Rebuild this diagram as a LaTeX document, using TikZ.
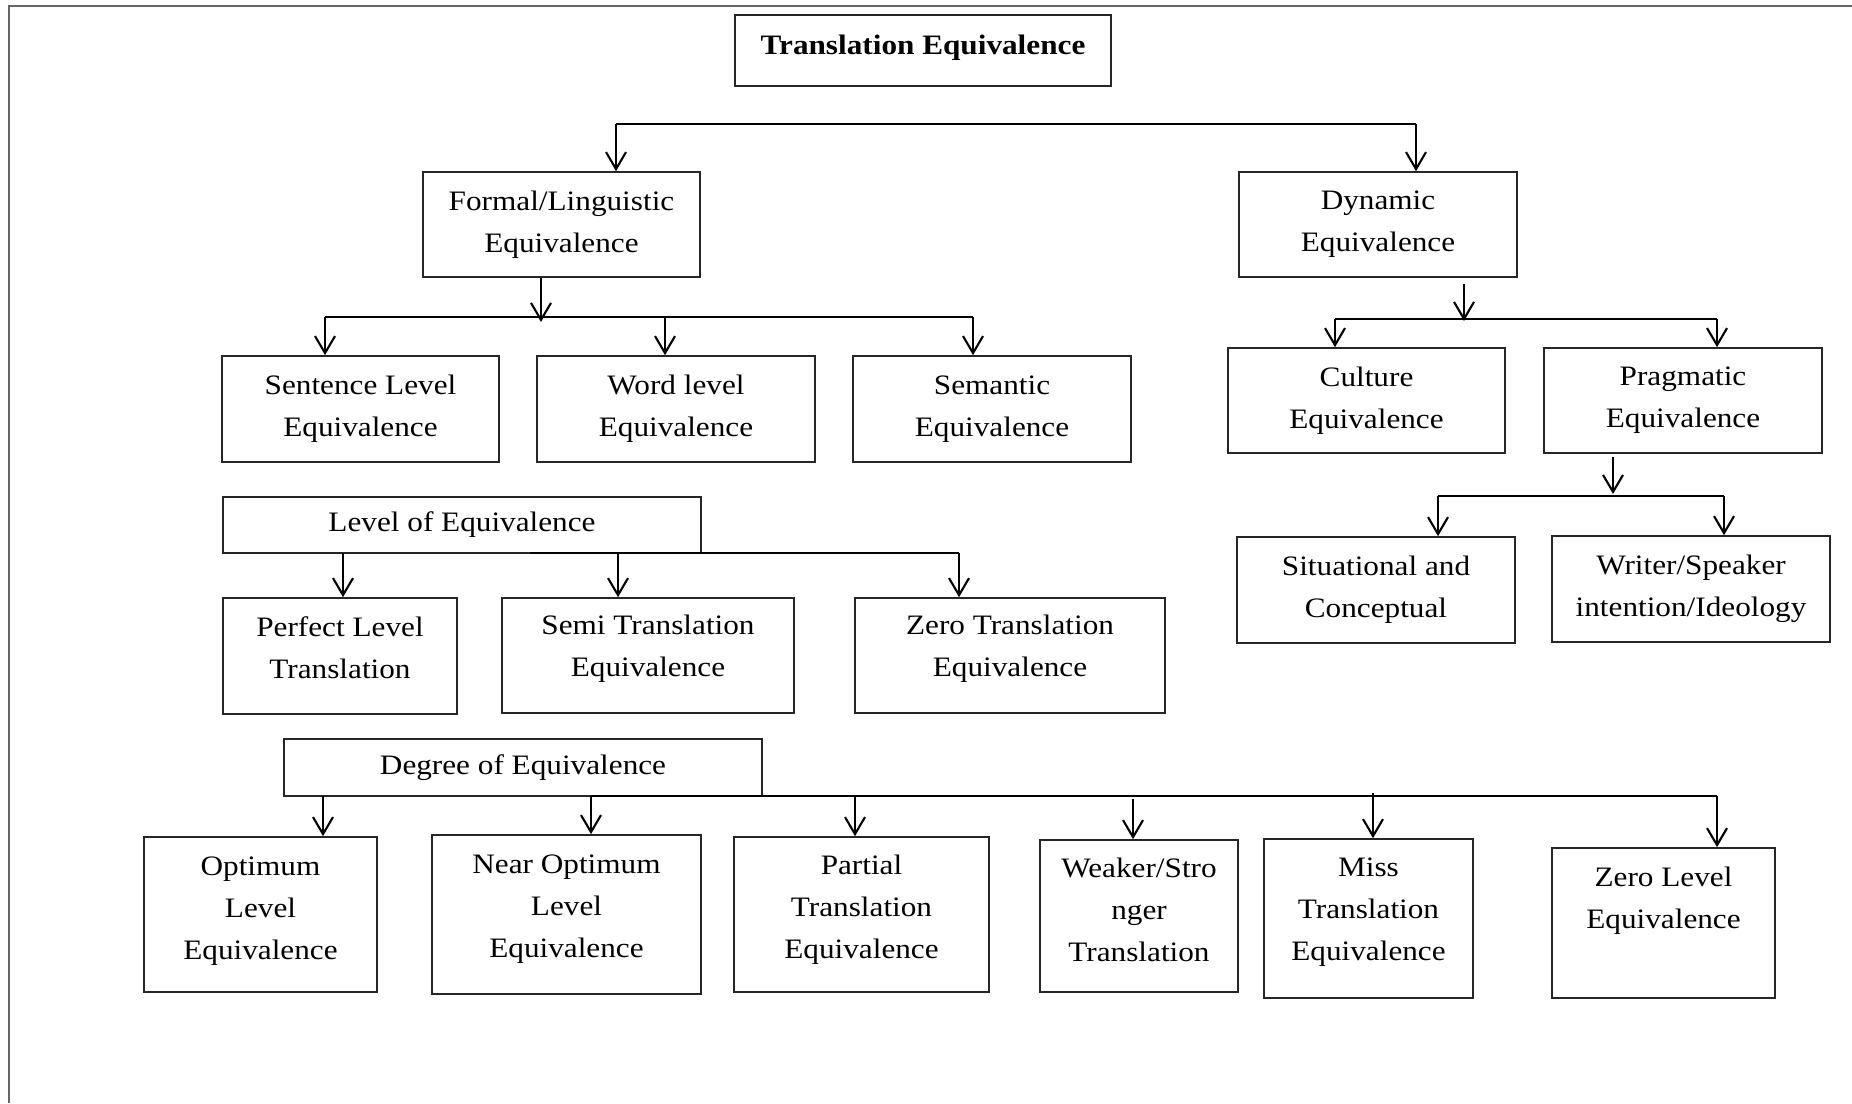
\documentclass[tikz,border=0pt]{standalone}
\usepackage{fontspec}
\setmainfont{Liberation Serif}[FakeStretch=1.11]
\usetikzlibrary{arrows.meta}

\begin{document}
\begin{tikzpicture}[x=0.01cm,y=-0.01cm]
  \tikzstyle{box}=[draw=black!85,line width=0.45pt,inner sep=0pt,align=center,font=\fontsize{8}{11.9}\selectfont]
  \tikzstyle{edge}=[draw=black,line width=0.6pt]
  \tikzstyle{arr}=[edge,-{Straight Barb[length=1.7mm,width=2mm]}]

  \useasboundingbox (0,0) rectangle (1852,1103);
  \draw[black!60,line width=0.4pt] (9,1103) -- (9,6) -- (1852,6);

  % boxes
  \node[box,minimum width=3.76cm,minimum height=0.71cm,text depth=0.11cm] (root) at (923,50.5) {\textbf{Translation Equivalence}};

  \node[box,minimum width=2.77cm,minimum height=1.05cm] (formal)  at (561.5,224.5) {Formal/Linguistic\\Equivalence};
  \node[box,minimum width=2.78cm,minimum height=1.05cm] (dynamic) at (1378,224.5)  {Dynamic\\Equivalence};

  \node[box,minimum width=2.77cm,minimum height=1.06cm] (sentence) at (360.5,409) {Sentence Level\\Equivalence};
  \node[box,minimum width=2.78cm,minimum height=1.06cm] (word)     at (676,409)   {Word level\\Equivalence};
  \node[box,minimum width=2.78cm,minimum height=1.06cm] (semantic) at (992,409)   {Semantic\\Equivalence};

  \node[box,minimum width=2.77cm,minimum height=1.05cm] (culture)   at (1366.5,400.5) {Culture\\Equivalence};
  \node[box,minimum width=2.78cm,minimum height=1.05cm] (pragmatic) at (1683,400.5)   {Pragmatic\\Equivalence};

  \node[box,minimum width=2.78cm,minimum height=1.06cm] (situational) at (1376,590) {Situational and\\Conceptual};
  \node[box,minimum width=2.78cm,minimum height=1.06cm] (writer)      at (1691,589) {Writer/Speaker\\intention/Ideology};

  \node[box,minimum width=4.78cm,minimum height=0.56cm] (levelhead) at (462,525) {Level of Equivalence};
  \node[box,minimum width=2.34cm,minimum height=1.16cm,text depth=0.17cm] (perfect) at (340,656)    {Perfect Level\\Translation};
  \node[box,minimum width=2.92cm,minimum height=1.15cm,text depth=0.19cm] (semi)    at (648,655.5)  {Semi Translation\\Equivalence};
  \node[box,minimum width=3.10cm,minimum height=1.15cm,text depth=0.19cm] (zerotr)  at (1010,655.5) {Zero Translation\\Equivalence};

  \node[box,minimum width=4.78cm,minimum height=0.57cm] (degreehead) at (523,767.5) {Degree of Equivalence};
  \node[box,minimum width=2.33cm,minimum height=1.55cm,text depth=0.13cm] (optimum)   at (260.5,914.5)  {Optimum\\Level\\Equivalence};
  \node[box,minimum width=2.69cm,minimum height=1.59cm,text depth=0.17cm] (nearopt)   at (566.5,914.5)  {Near Optimum\\Level\\Equivalence};
  \node[box,minimum width=2.55cm,minimum height=1.55cm,text depth=0.15cm] (partial)   at (861.5,914.5)  {Partial\\Translation\\Equivalence};
  \node[box,minimum width=1.98cm,minimum height=1.52cm,text depth=0.13cm] (weaker)    at (1139,916)     {Weaker/Stro\\nger\\Translation};
  \node[box,minimum width=2.09cm,minimum height=1.59cm,text depth=0.18cm] (miss)      at (1368.5,918.5) {Miss\\Translation\\Equivalence};
  \node[box,minimum width=2.23cm,minimum height=1.50cm,text depth=0.51cm] (zerolevel) at (1663.5,923)   {Zero Level\\Equivalence};

  % top level
  \coordinate (t1) at (616,124);
  \coordinate (t2) at (1416,124);
  \draw[edge] (t1) -- (t2);
  \draw[arr] (t1) -- (t1 |- formal.north);
  \draw[arr] (t2) -- (t2 |- dynamic.north);

  % formal branch
  \coordinate (fa) at (541,322);
  \coordinate (f1) at (325,317);
  \coordinate (f2) at (665,317);
  \coordinate (f3) at (973,317);
  \draw[arr] (fa |- formal.south) -- (fa);
  \draw[edge] (f1) -- (f3);
  \draw[arr] (f1) -- (f1 |- sentence.north);
  \draw[arr] (f2) -- (f2 |- word.north);
  \draw[arr] (f3) -- (f3 |- semantic.north);

  % dynamic branch
  \coordinate (da0) at (1464,284);
  \coordinate (da) at (1464,321);
  \coordinate (d1) at (1335,319);
  \coordinate (d2) at (1717,319);
  \draw[arr] (da0) -- (da);
  \draw[edge] (d1) -- (d2);
  \draw[arr] (d1) -- (d1 |- culture.north);
  \draw[arr] (d2) -- (d2 |- pragmatic.north);

  % pragmatic branch
  \coordinate (pa0) at (1613,457);
  \coordinate (pa) at (1613,494);
  \coordinate (p1) at (1438,496);
  \coordinate (p2) at (1724,496);
  \draw[arr] (pa0) -- (pa);
  \draw[edge] (p1) -- (p2);
  \draw[arr] (p1) -- (p1 |- situational.north);
  \draw[arr] (p2) -- (p2 |- writer.north);

  % level of equivalence
  \coordinate (l1) at (343,553);
  \coordinate (l0) at (530,553);
  \coordinate (l2) at (618,553);
  \coordinate (l3) at (959,553);
  \draw[edge] (l0) -- (l3);
  \draw[arr] (l1) -- (l1 |- perfect.north);
  \draw[arr] (l2) -- (l2 |- semi.north);
  \draw[arr] (l3) -- (l3 |- zerotr.north);

  % degree of equivalence
  \coordinate (g1) at (323,796);
  \coordinate (g2) at (591,796);
  \coordinate (g3) at (855,796);
  \coordinate (g4) at (1133,799);
  \coordinate (g5) at (1373,793);
  \coordinate (g6) at (1717,796);
  \draw[edge] (g2) -- (g6);
  \draw[arr] (g1) -- (g1 |- optimum.north);
  \draw[arr] (g2) -- (g2 |- nearopt.north);
  \draw[arr] (g3) -- (g3 |- partial.north);
  \draw[arr] (g4) -- (g4 |- weaker.north);
  \draw[arr] (g5) -- (g5 |- miss.north);
  \draw[arr] (g6) -- (g6 |- zerolevel.north);
\end{tikzpicture}
\end{document}
